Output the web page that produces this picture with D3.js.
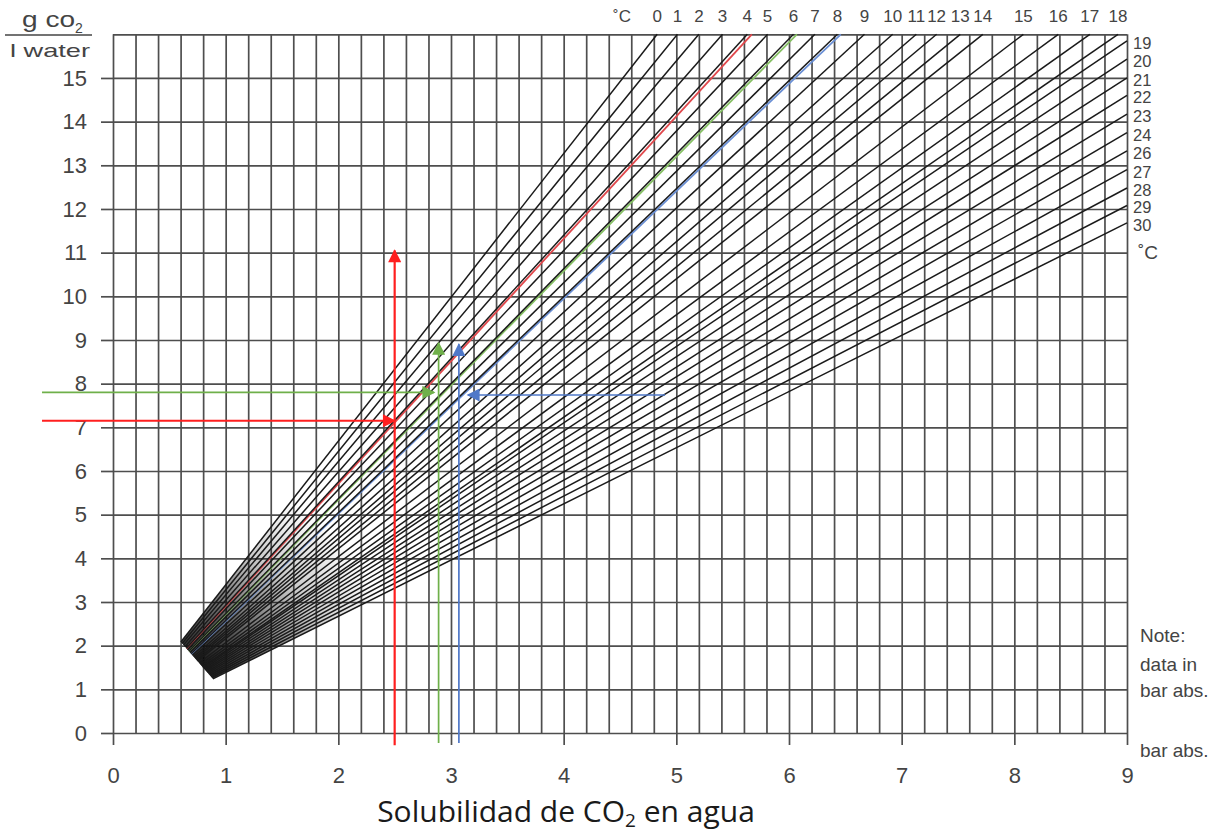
<!DOCTYPE html>
<html>
<head>
<meta charset="utf-8">
<script src="https://cdn.jsdelivr.net/npm/d3@7"></script>
<style>
  body { margin: 0; background: #fff; }
  svg text { font-family: "Liberation Sans", Arial, sans-serif; fill: #444; }
</style>
</head>
<body>
<div class="chart"></div>
<script>
var svgWidth = 1230;
var svgHeight = 835;

// axis tick labels
var xTicks = [0, 1, 2, 3, 4, 5, 6, 7, 8, 9];
var yTicks = [0, 1, 2, 3, 4, 5, 6, 7, 8, 9, 10, 11, 12, 13, 14, 15];

// temperature lines that leave through the top edge (16 g/l): end point in bar abs.
var topTemps = [0, 1, 2, 3, 4, 5, 6, 7, 8, 9, 10, 11, 12, 13, 14, 15, 16, 17, 18];
var topEndX = [4.83, 5.01, 5.20, 5.41, 5.63, 5.81, 6.04, 6.23, 6.43, 6.67,
               6.92, 7.13, 7.31, 7.52, 7.72, 8.08, 8.39, 8.67, 8.92];

// temperature lines that leave through the right edge (9 bar): end point in g/l
var rightTemps = [19, 20, 21, 22, 23, 24, 26, 27, 28, 29, 30];
var rightEndY = [15.85, 15.43, 15.0, 14.6, 14.17, 13.75, 13.33, 12.9, 12.48, 12.08, 11.68];

// the fan of lines: point they aim from, and the edge where they start
var fanFocus = [0, 0.1];
var fanBase = [[0.61, 2.06], [0.88, 1.26]];

// coloured temperature lines (top end, bar abs.)
var guideTopX = [5.67, 6.07, 6.46];

// reading arrows [x1, y1, x2, y2] (bar abs., g/l)
var redArrows = [[2.5, -0.28, 2.5, 11.05], [-0.63, 7.15, 2.5, 7.15]];
var greenArrows = [[2.89, -0.23, 2.89, 8.93], [-0.63, 7.8, 2.85, 7.8]];
var blueArrows = [[3.07, -0.23, 3.07, 8.9], [4.9, 7.74, 3.15, 7.74]];

var colors = { red: "#ff1f1f", green: "#6fb04a", blue: "#4f78c8" };
var guideColors = ["#e0484c", "#86c064", "#6a8fd4"];

var x = d3.scaleLinear().domain([0, 9]).range([113, 1127]);
var y = d3.scaleLinear().domain([0, 16]).range([733, 34.3]);

var svg = d3.select(".chart")
    .append("svg")
    .attr("width", svgWidth)
    .attr("height", svgHeight);

var defs = svg.append("defs");
Object.keys(colors).forEach(function(k) {
    defs.append("marker")
        .attr("id", "arrow-" + k)
        .attr("viewBox", "0 0 10 10")
        .attr("refX", 9)
        .attr("refY", 5)
        .attr("markerUnits", "userSpaceOnUse")
        .attr("markerWidth", 14)
        .attr("markerHeight", 13)
        .attr("orient", "auto")
        .append("path")
        .attr("d", "M0,0 L10,5 L0,10 z")
        .attr("fill", colors[k]);
});

// dark shading where the lines crowd together near the base
var shade = defs.append("radialGradient")
    .attr("id", "fan-shade")
    .attr("gradientUnits", "userSpaceOnUse")
    .attr("cx", x(0.78)).attr("cy", y(1.5))
    .attr("r", 190);
shade.append("stop").attr("offset", 0).attr("stop-color", "#000").attr("stop-opacity", 0.92);
shade.append("stop").attr("offset", 0.3).attr("stop-color", "#000").attr("stop-opacity", 0.6);
shade.append("stop").attr("offset", 0.65).attr("stop-color", "#000").attr("stop-opacity", 0.2);
shade.append("stop").attr("offset", 1).attr("stop-color", "#000").attr("stop-opacity", 0);

// grid
var gridV = d3.axisBottom(x)
    .tickValues(d3.range(0, 9.0001, 0.2))
    .tickSize(-(y(0) - y(16)))
    .tickFormat("");
svg.append("g")
    .attr("class", "grid")
    .attr("transform", `translate(0, ${y(0)})`)
    .call(gridV);

var gridH = d3.axisLeft(y)
    .tickValues(d3.range(0, 17))
    .tickSize(-(x(9) - x(0)))
    .tickFormat("");
svg.append("g")
    .attr("class", "grid")
    .attr("transform", `translate(${x(0)}, 0)`)
    .call(gridH);

svg.selectAll(".grid .domain").remove();
svg.selectAll(".grid line")
    .attr("stroke", "#4e4e4e")
    .attr("stroke-width", 1.7);

// labelled axes
var bottomAxis = d3.axisBottom(x).tickValues(xTicks).tickSize(12).tickPadding(22);
var leftAxis = d3.axisLeft(y).tickValues(yTicks).tickSize(12).tickPadding(14);

var xg = svg.append("g")
    .attr("transform", `translate(0, ${y(0)})`)
    .call(bottomAxis);
var yg = svg.append("g")
    .attr("transform", `translate(${x(0)}, 0)`)
    .call(leftAxis);

[xg, yg].forEach(function(g) {
    g.select(".domain").remove();
    g.selectAll("line").attr("stroke", "#4e4e4e").attr("stroke-width", 1.7);
    g.selectAll("text")
        .attr("font-size", 22)
        .attr("fill", "#444")
        .style("font-family", "'Liberation Sans', Arial, sans-serif");
});

// where a line aimed from the focus meets the fan base
function fanStart(end) {
    var fx = fanFocus[0], fy = fanFocus[1];
    var dx = end[0] - fx, dy = end[1] - fy;
    var bx = fanBase[0][0], by = fanBase[0][1];
    var ex = fanBase[1][0] - bx, ey = fanBase[1][1] - by;
    var den = dx * ey - dy * ex;
    var t = ((bx - fx) * ey - (by - fy) * ex) / den;
    return [fx + t * dx, fy + t * dy];
}

var tempLines = [];
topTemps.forEach(function(t, i) {
    tempLines.push({ temp: t, end: [topEndX[i], 16] });
});
rightTemps.forEach(function(t, i) {
    tempLines.push({ temp: t, end: [9, rightEndY[i]] });
});
tempLines.forEach(function(d) { d.start = fanStart(d.end); });

// shading polygon between the first and last temperature line
var first = tempLines[0], last = tempLines[tempLines.length - 1];
svg.append("path")
    .attr("d", d3.line()([
        [x(first.start[0]), y(first.start[1])],
        [x(first.end[0]), y(first.end[1])],
        [x(last.end[0]), y(last.end[1])],
        [x(last.start[0]), y(last.start[1])]
    ]) + "Z")
    .attr("fill", "url(#fan-shade)");

// coloured temperature lines under the black ones
svg.append("g").selectAll("line")
    .data(guideTopX)
    .enter()
    .append("line")
    .attr("x1", d => x(fanStart([d, 16])[0]))
    .attr("y1", d => y(fanStart([d, 16])[1]))
    .attr("x2", d => x(d))
    .attr("y2", y(16))
    .attr("stroke", (d, i) => guideColors[i])
    .attr("stroke-width", 1.8);

svg.append("g").selectAll("line")
    .data(tempLines)
    .enter()
    .append("line")
    .attr("x1", d => x(d.start[0]))
    .attr("y1", d => y(d.start[1]))
    .attr("x2", d => x(d.end[0]))
    .attr("y2", d => y(d.end[1]))
    .attr("stroke", "#1a1a1a")
    .attr("stroke-width", 1.5);

// temperature labels
svg.append("g").selectAll("text")
    .data(topTemps)
    .enter()
    .append("text")
    .attr("x", (d, i) => x(topEndX[i]))
    .attr("y", 22)
    .attr("text-anchor", "middle")
    .attr("font-size", 17)
    .text(d => d);

svg.append("text")
    .attr("x", 622)
    .attr("y", 22)
    .attr("text-anchor", "middle")
    .attr("font-size", 17)
    .text("˚C");

svg.append("g").selectAll("text")
    .data(rightTemps)
    .enter()
    .append("text")
    .attr("x", 1133)
    .attr("y", (d, i) => y(rightEndY[i]) + 8)
    .attr("font-size", 16.5)
    .text(d => d);

svg.append("text")
    .attr("x", 1138)
    .attr("y", 259)
    .attr("font-size", 19)
    .text("˚C");

// reading arrows
function drawArrows(list, key) {
    svg.append("g").selectAll("line")
        .data(list)
        .enter()
        .append("line")
        .attr("x1", d => x(d[0]))
        .attr("y1", d => y(d[1]))
        .attr("x2", d => x(d[2]))
        .attr("y2", d => y(d[3]))
        .attr("stroke", colors[key])
        .attr("stroke-width", key == "red" ? 2.2 : 1.7)
        .attr("marker-end", `url(#arrow-${key})`);
}
drawArrows(greenArrows, "green");
drawArrows(blueArrows, "blue");
drawArrows(redArrows, "red");

// y unit label
var unit = svg.append("g");
unit.append("text")
    .attr("x", 22)
    .attr("y", 27)
    .attr("font-size", 22)
    .attr("textLength", 53)
    .attr("lengthAdjust", "spacingAndGlyphs")
    .text("g co");
unit.append("text")
    .attr("x", 75)
    .attr("y", 33)
    .attr("font-size", 14)
    .text("2");
unit.append("line")
    .attr("x1", 5).attr("x2", 92)
    .attr("y1", 35).attr("y2", 35)
    .attr("stroke", "#444")
    .attr("stroke-width", 1.5);
unit.append("text")
    .attr("x", 10)
    .attr("y", 57)
    .attr("font-size", 19)
    .attr("textLength", 80)
    .attr("lengthAdjust", "spacingAndGlyphs")
    .text("l water");

// notes on the right
var notes = ["Note:", "data in", "bar abs."];
svg.append("g").selectAll("text")
    .data(notes)
    .enter()
    .append("text")
    .attr("x", 1140)
    .attr("y", (d, i) => [642, 671, 697][i])
    .attr("font-size", 19)
    .text(d => d);

svg.append("text")
    .attr("x", 1140)
    .attr("y", 757)
    .attr("font-size", 19)
    .text("bar abs.");

// title under the chart
var title = svg.append("text")
    .attr("x", 566)
    .attr("y", 822)
    .attr("text-anchor", "middle")
    .attr("font-size", 30)
    .style("font-family", "'Open Sans', 'Noto Sans', sans-serif")
    .style("fill", "#1a1a1a");
title.append("tspan").text("Solubilidad de CO");
title.append("tspan").attr("font-size", 19).attr("dy", 5).text("2");
title.append("tspan").attr("dy", -5).text(" en agua");
</script>
</body>
</html>
